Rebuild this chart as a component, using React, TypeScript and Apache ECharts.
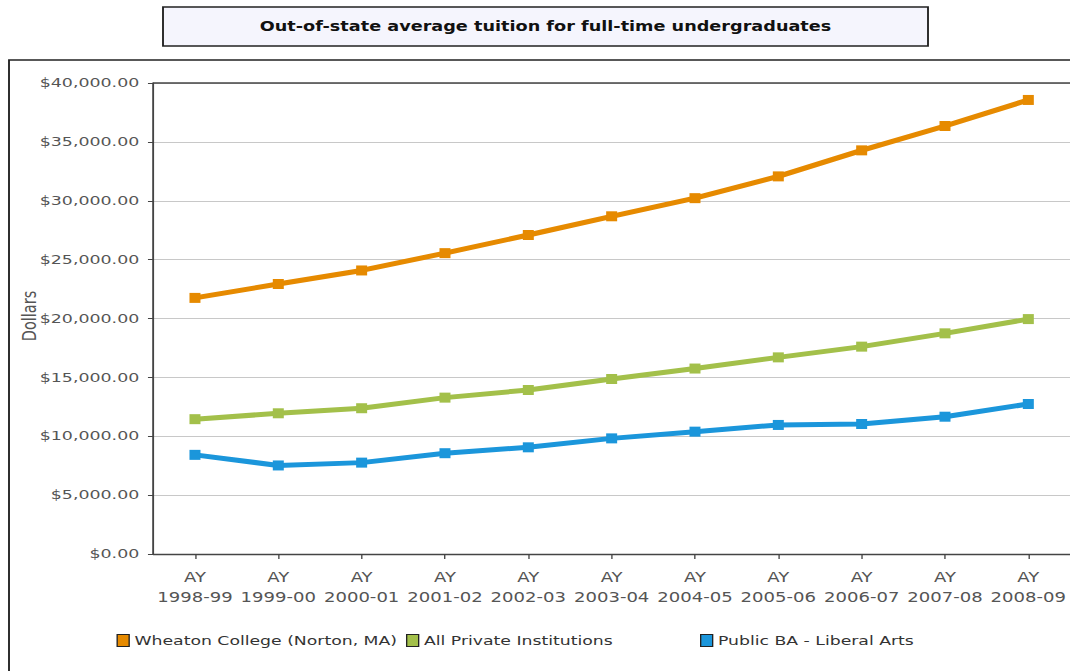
import React, { useEffect, useRef } from "react";
import * as echarts from "echarts";

const titleText = "Out-of-state average tuition for full-time undergraduates";
const yAxisName = "Dollars";
const years = ["1998-99", "1999-00", "2000-01", "2001-02", "2002-03", "2003-04", "2004-05", "2005-06", "2006-07", "2007-08", "2008-09"];
const wheaton = [21750, 22930, 24080, 25550, 27090, 28680, 30220, 32070, 34280, 36350, 38560];
const allPrivate = [11450, 11950, 12380, 13280, 13930, 14860, 15750, 16700, 17610, 18740, 19950];
const publicBA = [8420, 7520, 7760, 8560, 9060, 9820, 10390, 10960, 11040, 11660, 12740];
const seriesNames = ["Wheaton College (Norton, MA)", "All Private Institutions", "Public BA - Liberal Arts"];
const seriesColors = ["#e68a00", "#a3c04a", "#1b96db"];
const yMin = 0;
const yMax = 40000;
const yStep = 5000;

const S = 1.3375; // horizontal stretch of the reference
const W = 1070 / S;
const FONT = "DejaVu Sans";

function money(v: number): string {
  const fixed = v.toFixed(2);
  const [intPart, dec] = fixed.split(".");
  return "$" + intPart.replace(/\B(?=(\d{3})+(?!\d))/g, ",") + "." + dec;
}

export default function App() {
  const ref = useRef<HTMLDivElement>(null);
  useEffect(() => {
    if (!ref.current) return;
    const chart = echarts.init(ref.current, null, { renderer: "svg" });
    const values = [wheaton, allPrivate, publicBA];
    const legendLefts = [116.5 / S, 406 / S, 700 / S];
    chart.setOption({
      animation: false,
      backgroundColor: "#ffffff",
      textStyle: { fontFamily: FONT },
      grid: {
        left: 153.3 / S,
        top: 83,
        width: (1071.8 - 153.3) / S,
        height: 471,
        show: false,
        containLabel: false,
      },
      graphic: [
        {
          type: "rect",
          shape: { x: 9 / S, y: 60, width: 1200, height: 700 },
          style: { fill: "none", stroke: "#222", lineWidth: 1.4 },
          z: -10,
          silent: true,
        },
        {
          type: "line",
          shape: { x1: 153.3 / S, y1: 83, x2: 1100 / S, y2: 83 },
          style: { stroke: "#444", lineWidth: 1.4 },
          z: 1,
          silent: true,
        },
        {
          type: "rect",
          shape: { x: 163 / S, y: 7, width: (928 - 163) / S, height: 39 },
          style: { fill: "#f5f5fd", stroke: "#222", lineWidth: 1.4 },
          silent: true,
        },
        {
          type: "text",
          x: 545.5 / S,
          y: 27,
          style: {
            text: titleText,
            fontFamily: FONT,
            fontWeight: "bold",
            fontSize: 13.2,
            fill: "#111",
            align: "center",
            verticalAlign: "middle",
          },
          silent: true,
        },
        {
          type: "text",
          x: 29 / S,
          y: 316,
          rotation: Math.PI / 2,
          style: {
            text: yAxisName,
            fontFamily: FONT,
            fontSize: 14.5,
            fill: "#555",
            align: "center",
            verticalAlign: "middle",
          },
          silent: true,
        },
      ],
      legend: seriesNames.map((name, i) => ({
        show: true,
        data: [name],
        left: legendLefts[i],
        top: 634,
        padding: 0,
        icon: "rect",
        itemWidth: 12 / S,
        itemHeight: 12,
        itemGap: 0,
        itemStyle: { borderColor: "#222", borderWidth: 1 },
        textStyle: { fontFamily: FONT, fontSize: 12.9, color: "#333", padding: [0, 0, 0, -1] },
        selectedMode: false,
      })),
      xAxis: {
        type: "category",
        data: years,
        boundaryGap: true,
        axisLine: { show: true, lineStyle: { color: "#444", width: 1.4 } },
        axisTick: { show: true, alignWithLabel: true, length: 5, lineStyle: { color: "#444" } },
        axisLabel: {
          formatter: (v: string) => "AY\n" + v,
          fontFamily: FONT,
          fontSize: 13.5,
          lineHeight: 20,
          color: "#555",
          margin: 13,
          interval: 0,
        },
        splitLine: { show: false },
      },
      yAxis: {
        type: "value",
        min: yMin,
        max: yMax,
        interval: yStep,
        axisLine: { show: true, lineStyle: { color: "#444", width: 1.4 } },
        axisTick: { show: true, length: 4, lineStyle: { color: "#444" } },
        axisLabel: {
          formatter: (v: number) => money(v),
          fontFamily: FONT,
          fontSize: 13,
          color: "#555",
          margin: 10.5,
        },
        splitLine: { show: true, lineStyle: { color: "#c8c8c8", width: 1.2 } },
      },
      series: seriesNames.map((name, i) => ({
        name,
        type: "line",
        data: values[i],
        color: seriesColors[i],
        lineStyle: { color: seriesColors[i], width: 5 },
        itemStyle: { color: seriesColors[i] },
        symbol: "rect",
        symbolSize: [11 / S, 10],
        showSymbol: true,
        z: 3,
      })),
    });
    return () => chart.dispose();
  }, []);
  return (
    <div style={{ position: "absolute", left: 0, top: 0, width: 1070, height: 671, overflow: "hidden", background: "#fff" }}>
      <div
        ref={ref}
        style={{ width: W, height: 671, transform: `scaleX(${S})`, transformOrigin: "0 0" }}
      />
    </div>
  );
}
